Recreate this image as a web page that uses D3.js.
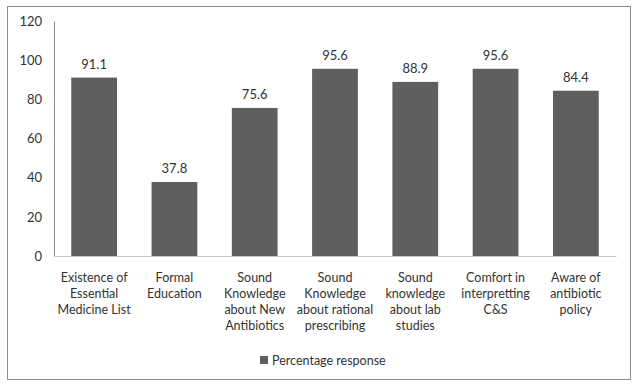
<!DOCTYPE html>
<html><head><meta charset="utf-8">
<script src="https://cdn.jsdelivr.net/npm/d3@7"></script>
<style>body{margin:0;background:#fff;} svg{display:block;font-family:Lato, "Liberation Sans", sans-serif;}</style>
</head><body>
<script>
const categories = [
  ["Existence of","Essential","Medicine List"],
  ["Formal","Education"],
  ["Sound","Knowledge","about New","Antibiotics"],
  ["Sound","Knowledge","about rational","prescribing"],
  ["Sound","knowledge","about lab","studies"],
  ["Comfort in","interpretting","C&S"],
  ["Aware of","antibiotic","policy"]
];
const values = [91.1, 37.8, 75.6, 95.6, 88.9, 95.6, 84.4];
const yTicks = [0, 20, 40, 60, 80, 100, 120];
const seriesName = "Percentage response";

(function () {
const W = 638, H = 387;
const svg = d3.select("body").append("svg").attr("width", W).attr("height", H);
svg.append("rect").attr("x", 7.5).attr("y", 6.5).attr("width", 623).attr("height", 373)
  .attr("fill", "#fff").attr("stroke", "#8c8c8c").attr("stroke-width", 1);

const mL = 54, mR = 616, mT = 21, mB = 256;
const x = d3.scaleBand().domain(d3.range(values.length)).range([mL, mR]).paddingInner(0.43).paddingOuter(0.215);
const y = d3.scaleLinear().domain([0, 120]).range([mB, mT]);

const yAxis = svg.append("g").attr("transform", `translate(${mL},0)`)
  .call(d3.axisLeft(y).tickValues(yTicks).tickSize(0).tickPadding(12));
yAxis.select(".domain").attr("stroke", "#8c8c8c");
yAxis.selectAll("text").attr("fill", "#333").style("font-size", "13px").style("font-family", "Lato, sans-serif");

svg.selectAll("rect.bar").data(values).join("rect").attr("class", "bar")
  .attr("x", (d, i) => x(i)).attr("width", x.bandwidth())
  .attr("y", d => y(d)).attr("height", d => y(0) - y(d))
  .attr("fill", "#5f5f5f");

svg.selectAll("text.val").data(values).join("text").attr("class", "val")
  .attr("x", (d, i) => x(i) + x.bandwidth() / 2).attr("y", d => y(d) - 9)
  .attr("text-anchor", "middle").attr("fill", "#333").style("font-size", "13px")
  .text(d => d.toFixed(1));

const xAxis = svg.append("g").attr("transform", `translate(0,${mB})`)
  .call(d3.axisBottom(x).tickSize(0).tickFormat(""));
xAxis.select(".domain").attr("stroke", "#c8c8c8");

const cl = svg.selectAll("text.cat").data(categories).join("text").attr("class", "cat")
  .attr("text-anchor", "middle").attr("fill", "#333").style("font-size", "12.5px");
cl.each(function (lines, i) {
  const t = d3.select(this);
  lines.forEach((l, j) => {
    t.append("tspan").attr("x", x(i) + x.bandwidth() / 2).attr("y", mB + 26 + j * 16).text(l);
  });
});

const lg = svg.append("g");
lg.append("rect").attr("x", 260).attr("y", 356).attr("width", 8).attr("height", 8).attr("fill", "#5f5f5f");
lg.append("text").attr("x", 272).attr("y", 364.5).attr("fill", "#333").style("font-size", "12.5px").text(seriesName);
})();
</script>
</body></html>
